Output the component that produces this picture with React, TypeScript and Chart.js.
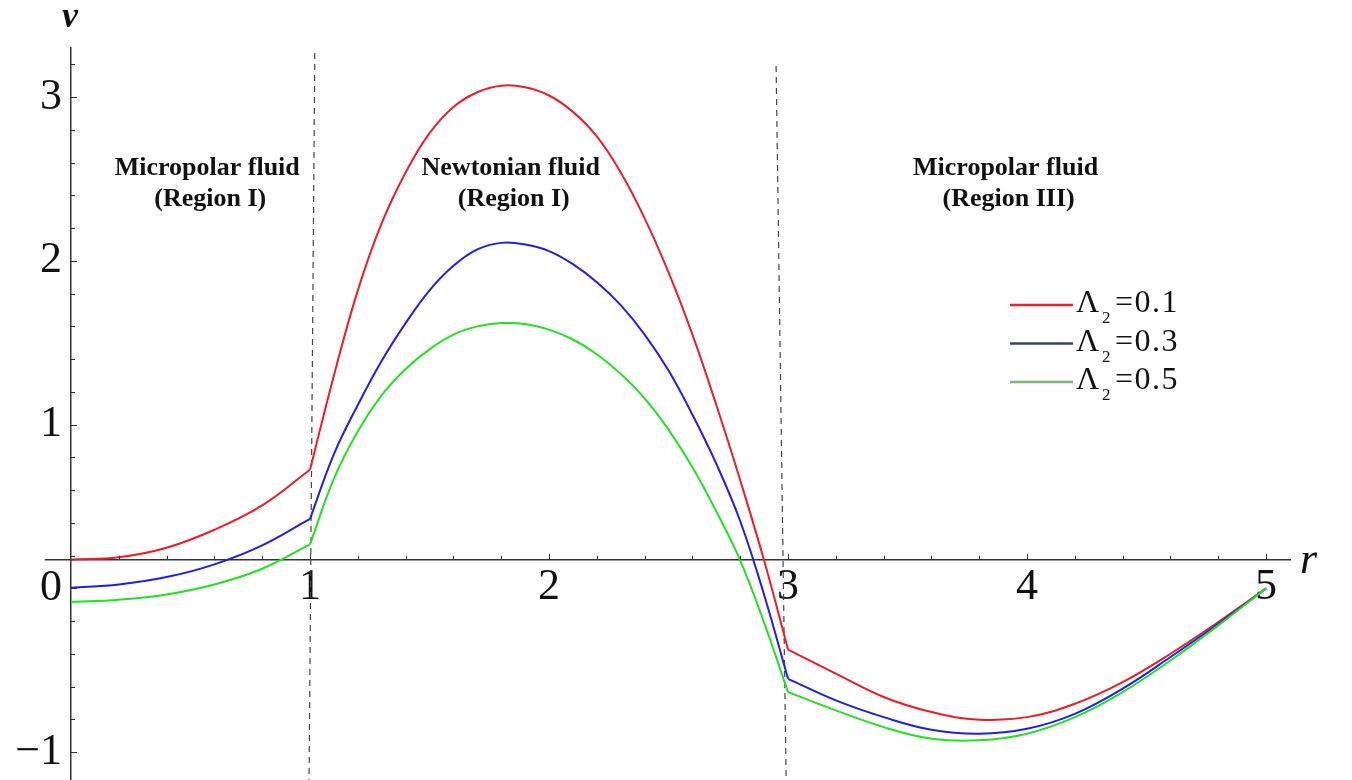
import React, { useEffect, useRef } from 'react';
import { Chart, registerables } from 'chart.js';

Chart.register(...registerables);

// ---------- data ----------
const LAMBDA_VALUES = [0.1, 0.3, 0.5];

const R_REGION_1 = [0, 0.2, 0.4, 0.6, 0.8, 1.0];
const V1_L01 = [0.177, 0.19, 0.248, 0.358, 0.507, 0.725];
const V1_L03 = [0.004, 0.024, 0.069, 0.147, 0.263, 0.425];
const V1_L05 = [-0.083, -0.069, -0.037, 0.024, 0.12, 0.269];

const R_REGION_2 = [1.0, 1.1, 1.2, 1.3, 1.4, 1.5, 1.6, 1.7, 1.8, 1.9, 2.0, 2.1, 2.2, 2.3, 2.4, 2.5, 2.6, 2.7, 2.8, 2.9, 3.0];
const V2_L01 = [0.725, 1.30, 1.82, 2.23, 2.54, 2.78, 2.94, 3.03, 3.07, 3.06, 3.01, 2.91, 2.76, 2.54, 2.26, 1.93, 1.55, 1.12, 0.66, 0.17, -0.374];
const V2_L03 = [0.425, 0.82, 1.12, 1.39, 1.62, 1.82, 1.97, 2.07, 2.11, 2.10, 2.06, 1.98, 1.87, 1.73, 1.55, 1.33, 1.06, 0.76, 0.41, -0.04, -0.552];
const V2_L05 = [0.269, 0.67, 0.96, 1.18, 1.34, 1.46, 1.55, 1.60, 1.62, 1.615, 1.58, 1.52, 1.43, 1.31, 1.16, 0.97, 0.74, 0.47, 0.17, -0.21, -0.633];

const R_REGION_3 = [3.0, 3.2, 3.4, 3.6, 3.8, 4.0, 4.2, 4.4, 4.6, 4.8, 5.0];
const V3_L01 = [-0.374, -0.52, -0.663, -0.755, -0.802, -0.786, -0.704, -0.572, -0.399, -0.205, 0];
const V3_L03 = [-0.552, -0.684, -0.786, -0.863, -0.887, -0.857, -0.766, -0.612, -0.419, -0.216, 0];
const V3_L05 = [-0.633, -0.745, -0.847, -0.918, -0.928, -0.887, -0.786, -0.633, -0.44, -0.226, 0];

const X_TICKS = [0, 1, 2, 3, 4, 5];
const Y_TICKS = [-1, 0, 1, 2, 3];

// interface (dashed) lines: [r at top, v at top, r at bottom, v at bottom]
const INTERFACE_1 = [1.02, 3.27, 0.996, -1.17];
const INTERFACE_2 = [2.95, 3.19, 2.992, -1.17];

const REGION_TITLES = [
  ['Micropolar fluid', '(Region I)'],
  ['Newtonian fluid', '(Region I)'],
  ['Micropolar fluid', '(Region III)'],
];

// ---------- styles ----------
const CURVE_COLORS = ['#ee1c24', '#1f1fe6', '#22e022'];
const LEGEND_COLORS = ['#e8232a', '#34406e', '#7ab870'];
const AXIS_COLOR = '#333333';
const SERIF = '"Liberation Serif", "DejaVu Serif", serif';
const X_AXIS_CROSS = 0.175;

const pts = (rs: number[], vs: number[]) => rs.map((r, i) => ({ x: r, y: vs[i] }));

const decorPlugin = {
  id: 'decor',
  afterDraw(chart: any) {
    const { ctx } = chart;
    const xs = chart.scales.x;
    const ys = chart.scales.y;
    const axisY = ys.getPixelForValue(X_AXIS_CROSS);
    const axisX = xs.getPixelForValue(0);
    ctx.save();
    // x-axis stub left of the y-axis
    ctx.strokeStyle = AXIS_COLOR;
    ctx.lineWidth = 1.5;
    ctx.beginPath();
    ctx.moveTo(xs.getPixelForValue(-0.11), axisY);
    ctx.lineTo(axisX, axisY);
    ctx.stroke();
    // tick marks (inward)
    ctx.lineWidth = 1;
    ctx.beginPath();
    for (let i = 1; i <= 25; i++) {
      const px = Math.round(xs.getPixelForValue(i * 0.2)) + 0.5;
      const len = i % 5 === 0 ? 6 : 4;
      ctx.moveTo(px, axisY);
      ctx.lineTo(px, axisY - len);
    }
    for (let k = -5; k <= 16; k++) {
      const v = k * 0.2;
      if (v < ys.min || v > ys.max) continue;
      const py = Math.round(ys.getPixelForValue(v)) + 0.5;
      const len = k % 5 === 0 ? 6 : 4;
      ctx.moveTo(axisX, py);
      ctx.lineTo(axisX + len, py);
    }
    ctx.stroke();

    // axis titles
    ctx.fillStyle = '#111';
    ctx.textBaseline = 'alphabetic';
    ctx.textAlign = 'center';
    ctx.font = `italic bold 36px ${SERIF}`;
    ctx.fillText('v', 70, 27);
    ctx.textAlign = 'left';
    ctx.font = `italic 44px ${SERIF}`;
    ctx.fillText('r', 1300, 573);

    // region titles
    const centers = [0.57, 1.84, 3.91];
    ctx.textAlign = 'center';
    ctx.textBaseline = 'middle';
    ctx.font = `bold 26px ${SERIF}`;
    REGION_TITLES.forEach((lines, i) => {
      const cx = xs.getPixelForValue(centers[i]);
      ctx.fillText(lines[0], cx, 168);
      ctx.fillText(lines[1], cx + 3, 199);
    });

    // legend
    ctx.textAlign = 'left';
    ctx.textBaseline = 'alphabetic';
    LAMBDA_VALUES.forEach((lam, i) => {
      const ly = 305 + i * 38.5;
      ctx.strokeStyle = LEGEND_COLORS[i];
      ctx.lineWidth = 2.5;
      ctx.beginPath();
      ctx.moveTo(1010, ly);
      ctx.lineTo(1073, ly);
      ctx.stroke();
      const base = ly + 7;
      ctx.fillStyle = '#111';
      ctx.font = `32px ${SERIF}`;
      ctx.fillText('\u039B', 1076, base);
      ctx.font = `17px ${SERIF}`;
      ctx.fillText('2', 1102, base + 11);
      ctx.font = `32px ${SERIF}`;
      (ctx as any).letterSpacing = '1.5px';
      ctx.fillText('=' + lam.toFixed(1), 1115, base);
      (ctx as any).letterSpacing = '0px';
    });
    ctx.restore();
  },
};

export default function App() {
  const ref = useRef<HTMLCanvasElement | null>(null);

  useEffect(() => {
    if (!ref.current) return;
    const regions = [
      [R_REGION_1, [V1_L01, V1_L03, V1_L05]],
      [R_REGION_2, [V2_L01, V2_L03, V2_L05]],
      [R_REGION_3, [V3_L01, V3_L03, V3_L05]],
    ] as [number[], number[][]][];

    const datasets: any[] = [];
    regions.forEach(([rs, series]) => {
      series.forEach((vs, si) => {
        datasets.push({
          label: `\u039B2 = ${LAMBDA_VALUES[si]}`,
          data: pts(rs, vs),
          borderColor: CURVE_COLORS[si],
          borderWidth: 2,
          pointRadius: 0,
          fill: false,
          tension: 0.4,
          order: 2 - si,
          clip: 4,
        });
      });
    });
    [INTERFACE_1, INTERFACE_2].forEach((ln) => {
      datasets.push({
        label: 'interface',
        data: [
          { x: ln[0], y: ln[1] },
          { x: ln[2], y: ln[3] },
        ],
        borderColor: '#444',
        borderWidth: 1.2,
        borderDash: [6, 5],
        pointRadius: 0,
        fill: false,
        tension: 0,
        order: 5,
        clip: 4,
      });
    });

    const fmt = (v: number) => (v < 0 ? '\u2212' + Math.abs(v) : String(v));

    const chart = new Chart(ref.current, {
      type: 'line',
      data: { datasets },
      plugins: [decorPlugin],
      options: {
        animation: false,
        responsive: false,
        events: [],
        layout: { padding: { left: 0, top: 48, right: 62, bottom: 0 } },
        plugins: { legend: { display: false }, tooltip: { enabled: false } },
        scales: {
          x: {
            type: 'linear',
            axis: 'x',
            position: { y: X_AXIS_CROSS } as any,
            min: 0,
            max: 5.1,
            afterBuildTicks: (s: any) => {
              s.ticks = X_TICKS.map((value) => ({ value }));
            },
            afterFit: (s: any) => {
              s.paddingLeft = 0;
              s.paddingRight = 0;
              s.paddingTop = 0;
              s.paddingBottom = 0;
            },
            grid: { display: false, drawTicks: false },
            border: { display: true, color: AXIS_COLOR, width: 1.5 },
            ticks: {
              autoSkip: false,
              maxRotation: 0,
              padding: 1,
              color: '#111',
              font: { family: 'Liberation Serif', size: 44 },
              callback: (v: any) => (Number(v) === 0 ? '' : fmt(Number(v))),
            },
          },
          y: {
            type: 'linear',
            position: 'left',
            min: -1.17,
            max: 3.3,
            afterBuildTicks: (s: any) => {
              s.ticks = Y_TICKS.map((value) => ({ value }));
            },
            afterFit: (s: any) => {
              s.width = 71;
              s.paddingTop = 0;
              s.paddingBottom = 0;
              s.paddingLeft = 0;
              s.paddingRight = 0;
            },
            grid: { display: false, drawTicks: false },
            border: { display: true, color: AXIS_COLOR, width: 1.5 },
            ticks: {
              autoSkip: false,
              padding: 9,
              color: '#111',
              font: { family: 'Liberation Serif', size: 44 },
              callback: (v: any) => fmt(Number(v)),
            },
          },
        },
      } as any,
    });
    return () => chart.destroy();
  }, []);

  return (
    <div style={{ position: 'absolute', left: 0, top: 0, width: 1352, height: 780, background: '#fff' }}>
      <canvas ref={ref} width={1352} height={780} style={{ display: 'block' }} />
    </div>
  );
}
